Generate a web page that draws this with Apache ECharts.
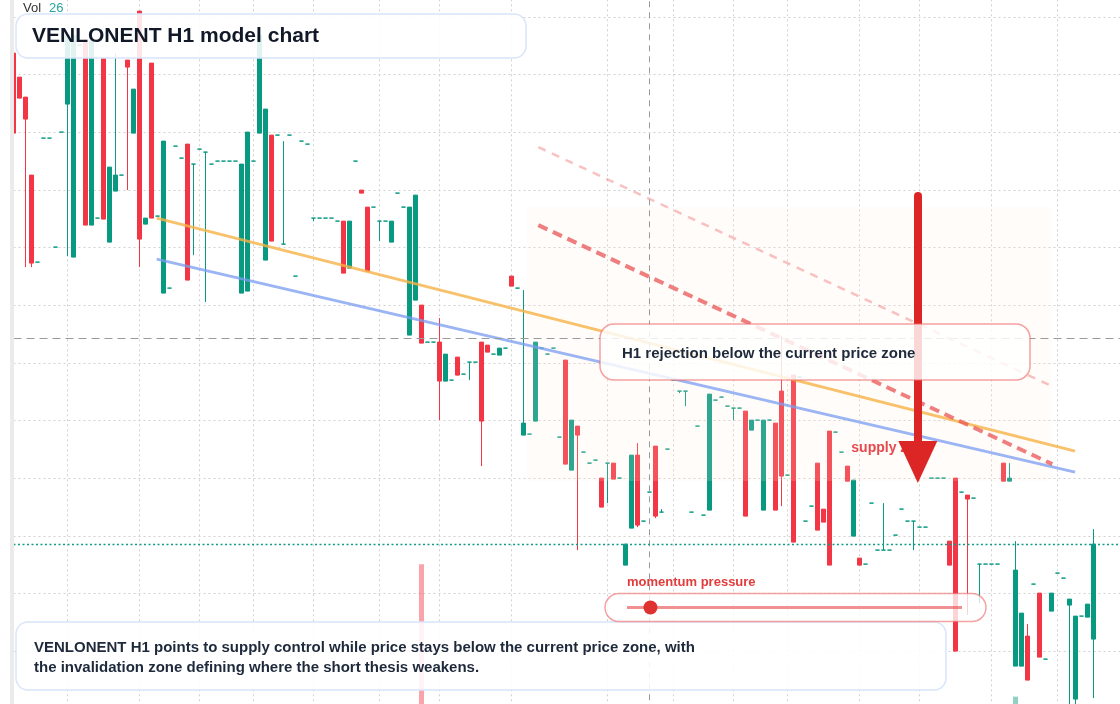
<!DOCTYPE html>
<html><head><meta charset="utf-8">
<script src="https://cdn.jsdelivr.net/npm/echarts@6.0.0/dist/echarts.min.js"></script>
<style>html,body{margin:0;padding:0;background:#fff;}#c{width:1120px;height:704px;}</style>
</head><body><div id="c"></div>
<script>
// ---- candle data (H1) ----
const opens = [
18.66,18.42,18.22,17.44,16.57,17.81,17.81,16.72,17.87,18.15,
16.62,18.74,18.79,16.94,17.01,18.61,16.77,17.28,17.44,18.59,
17.86,19.08,16.95,18.56,17.03,16.26,16.31,17.73,17.61,17.75,
17.55,17.70,17.67,17.55,17.58,17.58,17.58,17.58,16.26,16.28,
17.58,17.86,16.59,17.84,17.84,16.75,17.84,16.43,17.78,17.75,
17.01,17.01,17.01,17.01,16.98,16.98,16.51,17.58,17.29,17.12,
17.12,16.98,16.98,16.77,17.26,17.12,15.84,16.19,16.14,15.77,
15.77,15.77,15.38,15.39,15.62,15.45,15.57,15.57,15.77,15.74,
15.65,15.64,15.71,16.43,16.31,14.84,14.85,14.98,15.71,15.65,
15.71,14.82,15.59,14.49,14.93,14.67,14.56,14.59,14.41,14.56,
14.56,14.41,13.54,13.91,14.64,13.98,14.27,14.73,14.07,14.70,
15.39,15.28,15.28,14.07,14.93,14.04,14.09,15.19,15.22,15.13,
15.11,15.11,15.08,14.89,14.99,14.09,14.99,14.96,15.28,14.44,
15.44,15.42,13.98,14.13,14.56,14.10,14.88,14.87,14.67,14.53,
13.83,13.61,13.55,14.16,13.69,13.69,13.69,13.84,14.10,13.98,
13.98,13.92,13.92,14.41,14.41,14.41,13.78,14.41,14.27,14.24,
14.21,13.55,13.55,13.55,13.55,14.56,14.38,12.53,12.53,12.83,
13.35,13.26,12.60,13.08,13.46,13.41,13.14,12.20,13.03,13.02,
12.80];
const closes = [
17.86,18.21,18.00,16.56,16.57,17.81,17.81,16.72,17.87,18.84,
18.84,18.74,16.94,18.79,17.01,17.00,17.52,17.44,17.44,18.52,
18.30,16.80,17.01,17.01,17.03,17.78,16.31,17.73,17.61,16.39,
17.55,17.70,17.67,17.55,17.58,17.58,17.58,17.58,17.55,17.87,
17.58,18.84,18.10,16.78,17.84,16.75,17.84,16.43,17.78,17.75,
17.01,17.01,17.01,17.01,16.98,16.46,16.98,17.58,17.26,16.48,
17.12,16.98,16.98,16.98,17.26,17.12,17.12,17.24,15.76,15.77,
15.77,15.38,15.65,15.39,15.44,15.45,15.57,15.57,14.98,15.67,
15.65,15.71,15.71,16.33,16.31,14.96,14.85,15.77,15.71,15.65,
15.71,14.82,14.55,14.99,14.84,14.67,14.56,14.59,14.12,14.56,
14.40,14.41,13.75,14.64,13.94,13.98,14.27,14.03,14.07,14.70,
15.39,15.28,15.28,14.07,14.93,14.04,15.25,15.19,15.22,15.13,
15.11,15.11,14.03,14.99,14.99,14.99,14.99,14.09,14.43,14.44,
13.77,15.42,13.98,14.13,13.89,13.97,13.54,14.87,14.67,14.38,
14.39,13.54,13.55,14.16,13.69,13.69,13.69,13.84,14.10,13.98,
13.98,13.92,13.92,14.41,14.41,14.41,13.54,12.68,14.27,14.20,
14.21,13.55,13.55,13.55,13.55,14.38,14.41,13.49,13.06,12.39,
13.35,12.62,12.60,13.26,13.46,13.41,13.20,13.03,13.03,13.15,
13.75];
const lows = [
17.86,18.21,16.52,16.52,16.57,17.81,17.81,16.72,17.87,16.63,
16.62,18.74,16.94,16.94,17.01,17.00,16.77,17.28,17.44,17.29,
17.86,16.52,16.95,17.01,17.03,16.26,16.31,17.73,17.61,16.39,
16.64,17.70,16.17,17.55,17.58,17.58,17.58,17.58,16.26,16.28,
17.58,17.86,16.59,16.78,17.84,16.75,17.84,16.43,17.78,17.75,
16.98,17.01,17.01,17.01,16.98,16.46,16.51,17.58,17.26,16.48,
17.12,16.78,16.98,16.77,17.26,17.12,15.84,16.19,15.76,15.77,
15.77,14.99,15.38,15.39,15.44,15.45,15.39,15.57,14.53,15.67,
15.65,15.64,15.71,16.33,16.31,14.84,14.85,14.98,15.71,15.65,
15.71,14.82,14.55,14.49,13.69,14.67,14.56,14.59,14.12,14.16,
14.40,14.41,13.54,13.91,13.92,13.98,14.27,14.01,14.07,14.70,
15.39,15.26,15.13,14.07,14.93,14.04,14.09,15.19,15.22,15.13,
14.99,15.11,14.03,14.89,14.99,14.09,14.99,14.09,14.13,14.44,
13.77,15.42,13.98,14.13,13.89,13.97,13.54,14.87,14.67,14.38,
13.83,13.54,13.55,14.16,13.69,13.69,13.69,13.84,14.10,13.98,
13.69,13.92,13.92,14.41,14.41,14.41,13.54,12.68,14.27,13.04,
14.21,13.16,13.55,13.55,13.55,14.38,14.38,12.53,12.53,12.39,
13.35,12.62,12.60,13.08,13.46,13.41,11.99,12.04,13.03,13.02,
12.21];
const highs = [
18.66,18.42,18.22,17.44,16.57,17.81,17.81,16.72,17.87,18.84,
18.84,18.74,18.79,18.79,17.01,18.61,17.52,18.66,17.44,18.59,
18.30,19.08,17.01,18.56,17.03,17.78,16.31,17.73,17.61,17.75,
17.55,17.70,17.67,17.55,17.58,17.58,17.58,17.58,17.55,17.87,
17.58,18.84,18.10,17.84,17.84,17.78,17.84,16.43,17.78,17.75,
17.01,17.01,17.01,17.01,16.98,16.98,16.98,17.58,17.29,17.12,
17.12,16.98,16.98,16.98,17.26,17.12,17.12,17.24,16.14,15.77,
15.77,16.01,15.65,15.39,15.62,15.45,15.57,15.57,15.77,15.74,
15.65,15.71,15.71,16.43,16.31,16.29,14.85,15.77,15.71,15.65,
15.71,14.82,15.59,14.99,14.93,14.67,14.56,14.59,14.41,14.56,
14.56,14.41,13.75,14.64,14.76,13.98,14.27,14.73,14.10,14.70,
15.39,15.28,15.28,14.07,14.93,14.04,15.25,15.19,15.22,15.13,
15.11,15.11,15.08,14.99,14.99,14.99,14.99,14.96,15.83,14.44,
15.44,15.42,13.98,14.13,14.56,14.10,14.88,14.87,14.67,14.53,
14.39,13.61,13.55,14.16,13.69,14.16,13.69,13.84,14.10,13.98,
13.98,13.92,13.92,14.41,14.41,14.41,13.78,14.41,14.27,14.24,
14.21,13.55,13.55,13.55,13.55,14.56,14.56,13.78,13.06,12.95,
13.35,13.26,12.60,13.26,13.46,13.41,13.20,13.03,13.03,13.15,
13.90];
const volumes = [
22,14,18,24,6,5,5,7,6,21,
25,4,27,26,5,23,15,12,4,10,
13,28,6,22,5,20,4,5,5,19,
9,4,12,4,3,3,3,3,18,21,
4,15,20,16,4,11,4,5,4,4,
4,3,3,3,3,11,10,5,6,12,
4,6,4,7,5,4,19,17,98,4,
4,13,8,4,7,4,6,4,16,5,
4,6,4,7,4,14,4,15,4,4,
4,5,16,11,12,4,4,4,8,9,
7,4,8,13,14,4,26,12,4,4,
4,5,6,4,4,4,17,4,4,4,
5,4,16,6,4,14,4,14,19,4,
22,4,4,4,12,6,18,4,4,7,
11,5,4,4,4,9,4,4,4,4,
7,4,4,4,4,4,8,24,4,13,
4,9,4,4,4,7,6,34,13,12,
4,14,4,8,4,4,16,19,4,7,
21];
// session break ticks (category indices) used for vertical grid lines
const tickIndex = [9,21,31,40,50,61,71,83,99,110,120,129,141,151,163,174];
const emptySlots = 5;
// annotation lines in [candle position, price]
const resistanceLine = [[23.87, 17.01], [176.92, 14.68]];
const supportLine    = [[23.87, 16.60], [176.92, 14.47]];
const projectionLine = [[87.47, 16.94], [173.13, 14.55]];
const upperChannel   = [[87.47, 17.72], [173.03, 15.33]];
const supplyZone = {x0: 85.53, x1: 173.03, top: 17.12, bottom: 14.38};
const arrowX = 150.72, arrowTop = 17.23, arrowHead = 14.57;
const supplyLabelPos = [139.55, 14.71];
const hoverIndex = 106, hoverPrice = 15.81;
const momentumLevel = 0.07;

const G = '#089981', R = '#f23645';
const categories = [];
const t0 = Date.UTC(2024, 3, 1, 0);
for (let i = 0; i < opens.length + emptySlots; i++) {
  const d = new Date(t0 + i * 3600e3);
  categories.push((d.getUTCMonth()+1) + '/' + d.getUTCDate() + ' ' + String(d.getUTCHours()).padStart(2,'0') + ':00');
}
const candleData = opens.map((o, i) => {
  const v = [o, closes[i], lows[i], highs[i]];
  if (o === closes[i]) return {value: v, itemStyle: {color: G, color0: G, borderColor: G, borderColor0: G, borderColorDoji: G}};
  return v;
});
const volData = volumes.map((v, i) => ({value: v, itemStyle: {color: closes[i] >= opens[i] ? 'rgba(8,153,129,0.45)' : 'rgba(242,54,69,0.45)'}}));
const step = 0.5764;
const FONT = '"Liberation Sans", Arial, sans-serif';
const gridLine = {color: '#d0d0d0', type: [2, 3], width: 1};
const trackX0 = 627, trackX1 = 962;

const chart = echarts.init(document.getElementById('c'), null, {renderer: 'canvas'});
chart.setOption({
  animation: false,
  backgroundColor: '#ffffff',
  grid: [
    {left: 13.5, width: 1110, top: -40.64, height: 806.96, outerBoundsMode: 'none', containLabel: false},
    {left: 13.5, width: 1110, top: 560, height: 207, outerBoundsMode: 'none', containLabel: false}
  ],
  xAxis: [
    {type: 'category', gridIndex: 0, data: categories, boundaryGap: false,
     axisLine: {show: false}, axisTick: {show: false}, axisLabel: {show: false},
     splitLine: {show: false}},
    {type: 'value', gridIndex: 0, min: 0, max: categories.length - 1, show: false},
    {type: 'category', gridIndex: 1, data: categories, boundaryGap: false, show: false}
  ],
  yAxis: [
    {type: 'value', gridIndex: 0, min: 20 * step, max: 34 * step, interval: step,
     axisLine: {show: false}, axisTick: {show: false}, axisLabel: {show: false},
     splitLine: {show: true, lineStyle: gridLine}},
    {type: 'value', gridIndex: 1, min: 0, max: 100, show: false, splitLine: {show: false}}
  ],
  series: [
    // vertical session grid lines (below candles)
    {type: 'line', xAxisIndex: 0, yAxisIndex: 0, data: [], symbol: 'none', silent: true,
     markLine: {silent: true, z: 1, symbol: ['none', 'none'], label: {show: false}, lineStyle: gridLine,
       data: tickIndex.map(k => ({xAxis: categories[k]}))}},
    {type: 'candlestick', xAxisIndex: 0, yAxisIndex: 0, data: candleData, barWidth: 5, silent: true,
     itemStyle: {color: G, color0: R, borderColor: G, borderColor0: R, borderWidth: 1},
     markLine: {silent: true, symbol: ['none', 'none'], label: {show: false}, z: 5,
       data: [
         {xAxis: categories[hoverIndex], lineStyle: {color: '#9a9a9a', type: [6, 5], width: 1}},
         {yAxis: hoverPrice, lineStyle: {color: '#9a9a9a', type: [8, 5], width: 1}},
         {yAxis: closes[closes.length - 1], lineStyle: {color: '#129c8b', type: [2, 2.5], width: 1.3}}
       ]}},
    {type: 'bar', xAxisIndex: 2, yAxisIndex: 1, data: volData, barWidth: 5, silent: true},
    {type: 'line', xAxisIndex: 1, yAxisIndex: 0, data: resistanceLine, symbol: 'none', silent: true,
     lineStyle: {color: 'rgba(246,178,70,0.8)', width: 3}},
    {type: 'line', xAxisIndex: 1, yAxisIndex: 0, data: supportLine, symbol: 'none', silent: true,
     lineStyle: {color: 'rgba(122,156,240,0.75)', width: 3},
     markArea: {silent: true, z: 3, itemStyle: {color: 'rgba(255,236,220,0.16)'},
       data: [[{coord: [supplyZone.x0, supplyZone.top]}, {coord: [supplyZone.x1, supplyZone.bottom]}]]}},
    {type: 'line', xAxisIndex: 1, yAxisIndex: 0, data: upperChannel, symbol: 'none', silent: true,
     lineStyle: {color: 'rgba(240,120,120,0.45)', width: 2.5, type: [8, 7]}},
    {type: 'line', xAxisIndex: 1, yAxisIndex: 0, data: projectionLine, symbol: 'none', silent: true,
     lineStyle: {color: 'rgba(234,84,84,0.75)', width: 4, type: [10, 6]},
     markPoint: {silent: true, z: 4, data: [{coord: supplyLabelPos, symbol: 'rect', symbolSize: 1,
       itemStyle: {color: 'rgba(0,0,0,0)'},
       label: {show: true, position: 'right', distance: 0, formatter: 'supply zone', color: '#e5484d',
               fontWeight: 'bold', fontSize: 14, fontFamily: FONT}}]}},
    {type: 'line', xAxisIndex: 1, yAxisIndex: 0, data: [], symbol: 'none', silent: true,
     markLine: {silent: true, z: 6, symbol: ['none', 'triangle'], symbolSize: [39, 42], label: {show: false},
       lineStyle: {color: '#dc2626', width: 8, type: 'solid', cap: 'round', opacity: 1},
       data: [[{coord: [arrowX, arrowTop]}, {coord: [arrowX, arrowHead]}]]}}
  ],
  graphic: {z: 100, elements: [
    {type: 'rect', z: 100, silent: true, shape: {x: 10, y: 0, width: 4, height: 704}, style: {fill: '#ebebeb'}},
    {type: 'text', z: 100, silent: true, style: {x: 23, y: 8, text: 'Vol', fill: '#333333', font: '13px ' + FONT, verticalAlign: 'middle'}},
    {type: 'text', z: 100, silent: true, style: {x: 49, y: 8, text: String(volumes[hoverIndex]), fill: '#26a69a', font: '13px ' + FONT, verticalAlign: 'middle'}},
    {type: 'rect', z: 100, silent: true, shape: {x: 16, y: 14, width: 510, height: 44, r: 12},
     style: {fill: 'rgba(255,255,255,0.88)', stroke: '#d9e5fb', lineWidth: 1.5}},
    {type: 'text', z: 101, silent: true, style: {x: 32, y: 36.5, text: 'VENLONENT H1 model chart', fill: '#111827', font: 'bold 21px ' + FONT, verticalAlign: 'middle'}},
    {type: 'rect', z: 100, silent: true, shape: {x: 600, y: 324, width: 430, height: 56, r: 14},
     style: {fill: 'rgba(255,255,255,0.82)', stroke: 'rgba(236,100,100,0.6)', lineWidth: 1.5}},
    {type: 'text', z: 101, silent: true, style: {x: 622, y: 354, text: 'H1 rejection below the current price zone', fill: '#1e293b', font: 'bold 15px ' + FONT, verticalAlign: 'middle'}},
    {type: 'text', z: 101, silent: true, style: {x: 627, y: 582.5, text: 'momentum pressure', fill: '#e23b3b', font: 'bold 13px ' + FONT, verticalAlign: 'middle'}},
    {type: 'rect', z: 100, silent: true, shape: {x: 16, y: 622, width: 930, height: 68, r: 12},
     style: {fill: 'rgba(255,255,255,0.88)', stroke: '#d9e5fb', lineWidth: 1.5}},
    {type: 'rect', z: 101, silent: true, shape: {x: 605, y: 593.5, width: 381, height: 28, r: 14},
     style: {fill: 'rgba(255,255,255,0.78)', stroke: 'rgba(236,100,100,0.6)', lineWidth: 1.5}},
    {type: 'line', z: 102, silent: true, shape: {x1: trackX0, y1: 607.5, x2: trackX1, y2: 607.5},
     style: {stroke: 'rgba(232,70,70,0.6)', lineWidth: 3}},
    {type: 'circle', z: 103, silent: true, shape: {cx: trackX0 + momentumLevel * (trackX1 - trackX0), cy: 607.5, r: 7},
     style: {fill: '#e03131'}},
    {type: 'text', z: 101, silent: true, style: {x: 34, y: 648, text: 'VENLONENT H1 points to supply control while price stays below the current price zone, with', fill: '#1e293b', font: 'bold 15px ' + FONT, verticalAlign: 'middle'}},
    {type: 'text', z: 101, silent: true, style: {x: 34, y: 668, text: 'the invalidation zone defining where the short thesis weakens.', fill: '#1e293b', font: 'bold 15px ' + FONT, verticalAlign: 'middle'}}
  ]}
});
</script>
</body></html>
